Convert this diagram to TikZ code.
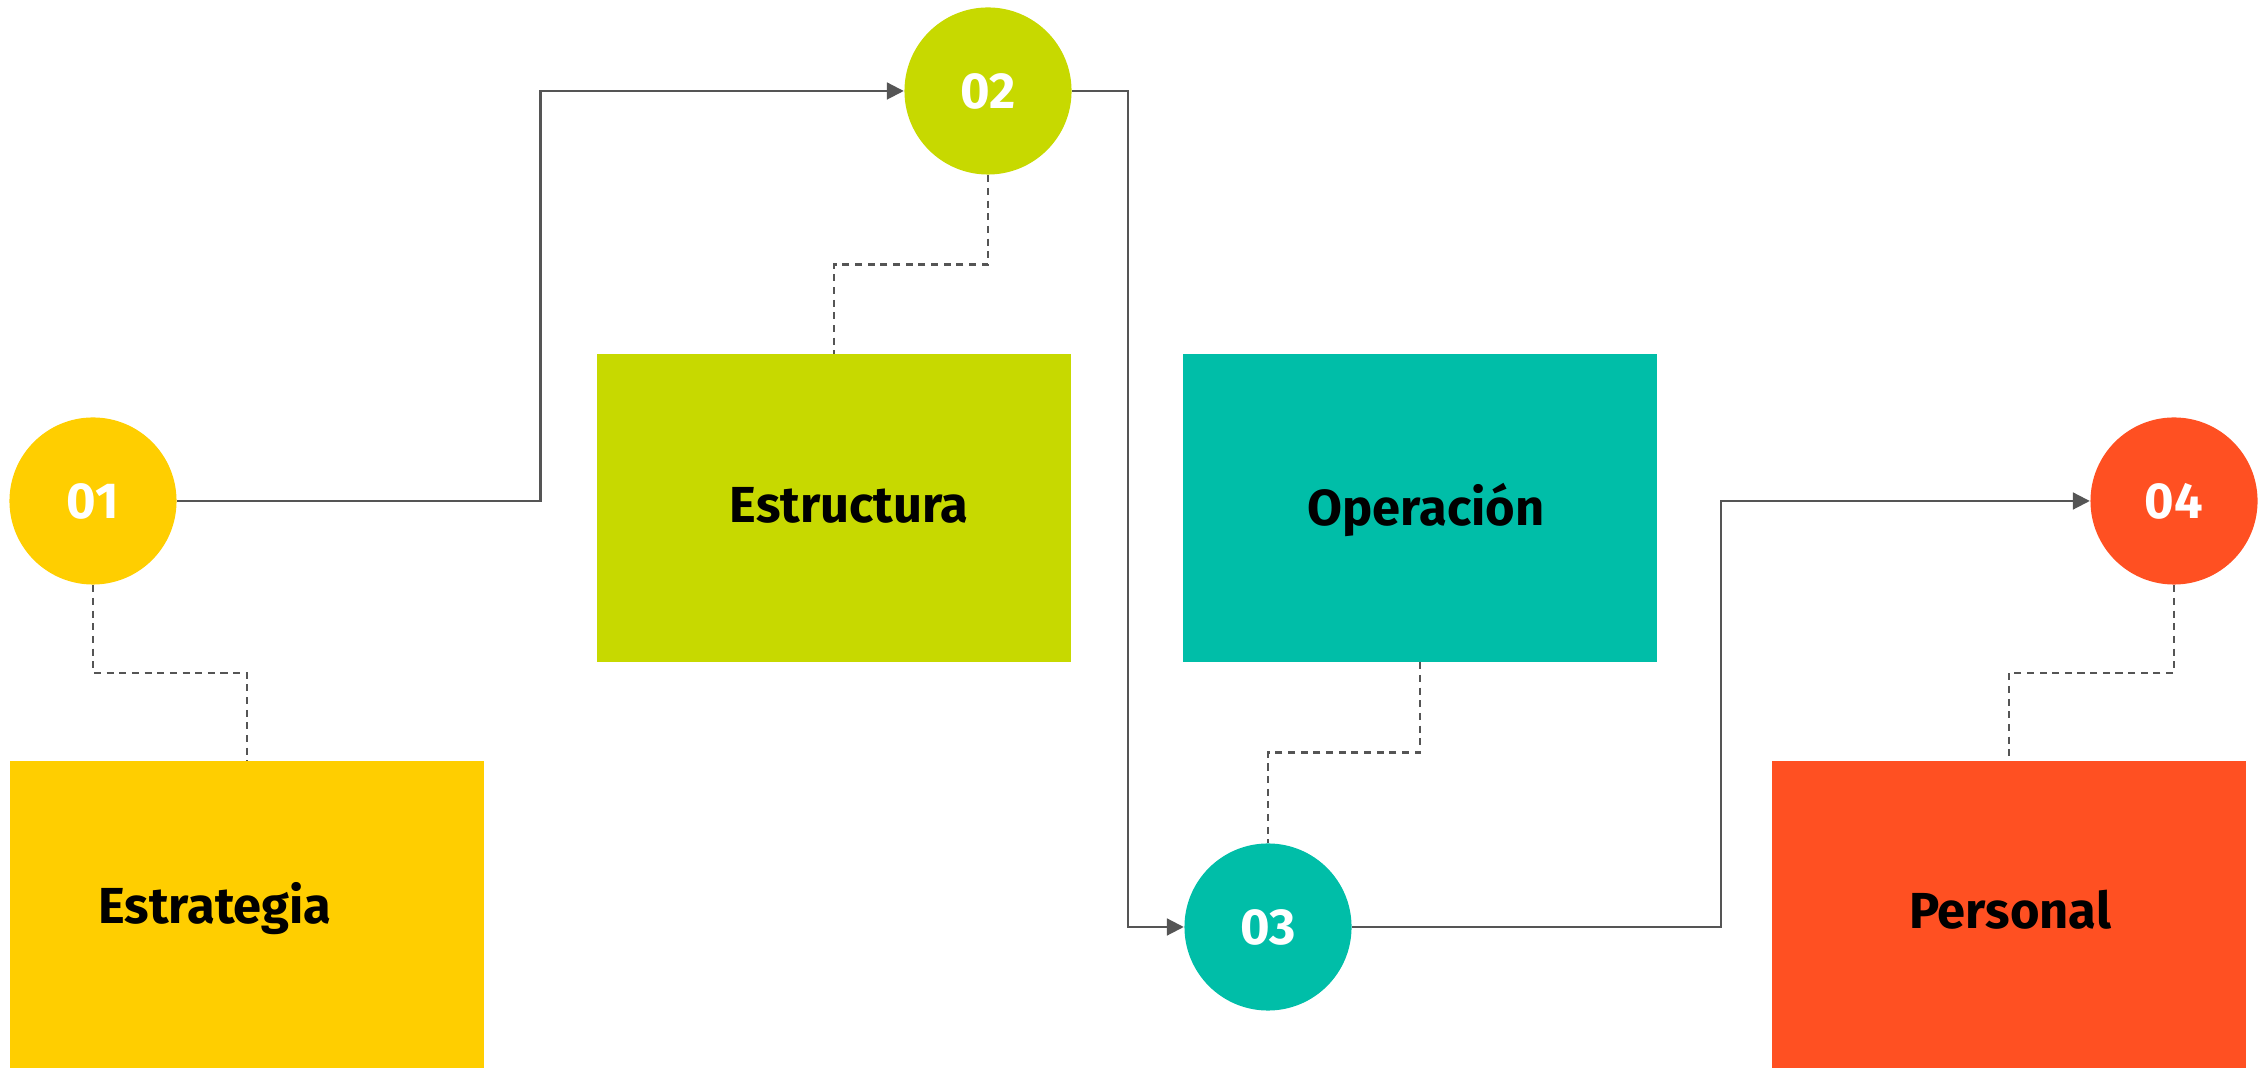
\documentclass[tikz,border=0pt]{standalone}
\usepackage{fontspec}
\setmainfont{Fira Sans}
\usepackage{tikz}
\usetikzlibrary{arrows.meta,positioning,calc}
\definecolor{stepyellow}{RGB}{255,206,0}
\definecolor{steplime}{RGB}{199,217,0}
\definecolor{stepteal}{RGB}{0,190,168}
\definecolor{steporange}{RGB}{255,80,34}
\definecolor{linegray}{RGB}{85,85,85}

\begin{document}
\begin{tikzpicture}[
    x=0.01cm, y=-0.01cm,
    num/.style={circle, fill=#1, minimum size=1.67cm, inner sep=0pt, text=white, font=\fontsize{14.4}{17}\selectfont\bfseries},
    card/.style={rectangle, fill=#1, minimum width=4.73cm, minimum height=3.07cm, inner sep=0pt},
    title/.style={font=\fontsize{14.4}{17}\selectfont\bfseries, text=black},
    flow/.style={-{Triangle[length=4.8pt,width=4.8pt]}, line width=0.6pt, linegray},
    link/.style={dashed, dash pattern=on 2pt off 1.6pt, line width=0.6pt, linegray}
]
\useasboundingbox (0,0) rectangle (2267,1068);

% Steps
\node[num=stepyellow] (c1) at (93,501) {01};
\node[num=steplime] (c2) at (988,91) {02};
\node[num=stepteal] (c3) at (1268,927) {03};
\node[num=steporange] (c4) at (2174,501) {04};

% Cards
\node[card=stepyellow] (b1) at (247,915) {};
\node[card=steplime] (b2) at (834,508) {};
\node[card=stepteal] (b3) at (1420,508) {};
\node[card=steporange] (b4) at (2009,915) {};

\node[title] (t1) at (215,909) {Estrategia};
\node[title] (t2) at (849,505) {Estructura};
\node[title] (t3) at (1426,510) {Operación};
\node[title] (t4) at (2010,910) {Personal};

% Flow between steps
\draw[flow] (c1.east) -| ($(c1.east)!.5!(c2.west)$) |- (c2.west);
\draw[flow] (c2.east) -| ($(c2.east)!.5!(c3.west)$) |- (c3.west);
\draw[flow] (c3.east) -| ($(c3.east)!.5!(c4.west)$) |- (c4.west);

% Dashed links to cards
\draw[link] (c1.south) |- ($(c1.south)!.5!(b1.north)$) -| (b1.north);
\draw[link] (c2.south) |- ($(c2.south)!.5!(b2.north)$) -| (b2.north);
\draw[link] (b3.south) |- ($(b3.south)!.5!(c3.north)$) -| (c3.north);
\draw[link] (c4.south) |- ($(c4.south)!.5!(b4.north)$) -| (b4.north);

\end{tikzpicture}
\end{document}
